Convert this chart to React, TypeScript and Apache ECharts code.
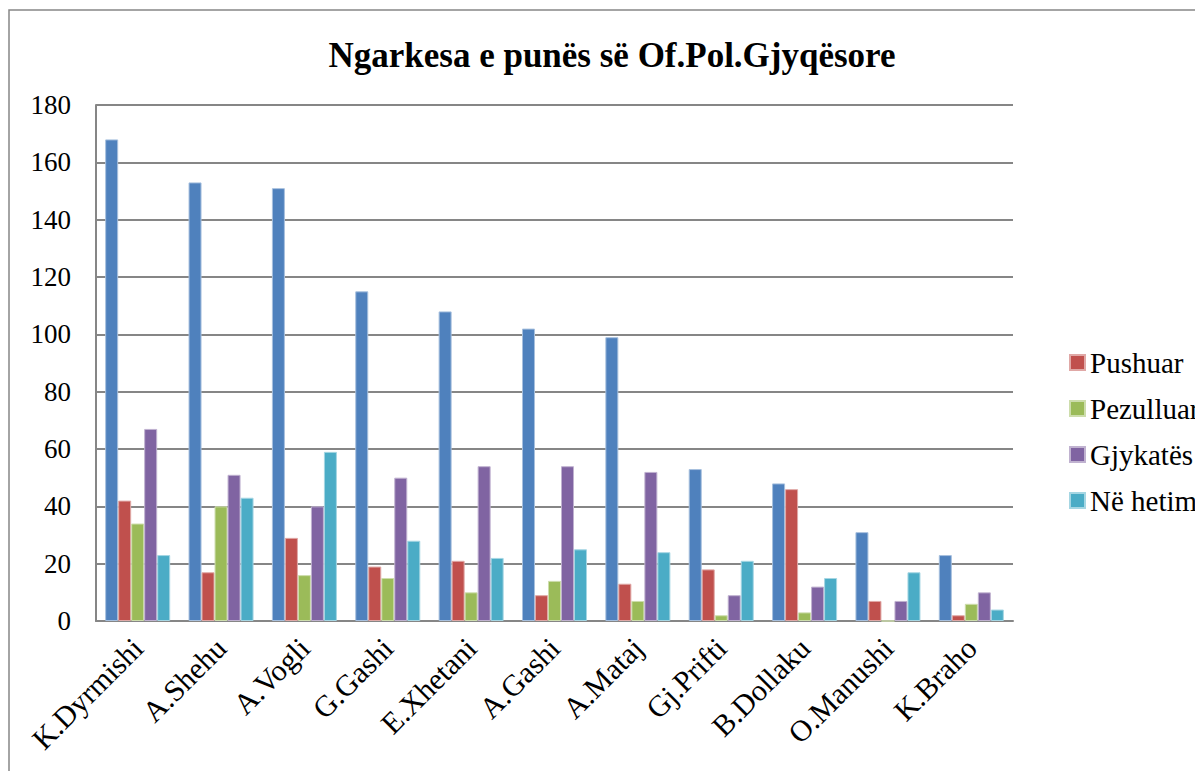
import React, { useEffect, useRef } from "react";
import * as echarts from "echarts";

const categories = ["K.Dyrmishi", "A.Shehu", "A.Vogli", "G.Gashi", "E.Xhetani", "A.Gashi", "A.Mataj", "Gj.Prifti", "B.Dollaku", "O.Manushi", "K.Braho"];
const totali = [168, 153, 151, 115, 108, 102, 99, 53, 48, 31, 23];
const pushuar = [42, 17, 29, 19, 21, 9, 13, 18, 46, 7, 2];
const pezulluar = [34, 40, 16, 15, 10, 14, 7, 2, 3, 0, 6];
const gjykates = [67, 51, 40, 50, 54, 54, 52, 9, 12, 7, 10];
const neHetim = [23, 43, 59, 28, 22, 25, 24, 21, 15, 17, 4];
const legendNames = ["Pushuar", "Pezulluar", "Gjykatës", "Në hetim"];

const seriesDefs = [
  { name: "Totali", data: totali, color: "#4F81BD", border: "#A7C0DE" },
  { name: "Pushuar", data: pushuar, color: "#C0504D", border: "#E0A8A6" },
  { name: "Pezulluar", data: pezulluar, color: "#9BBB59", border: "#CDDDAC" },
  { name: "Gjykatës", data: gjykates, color: "#8064A2", border: "#C0B2D0" },
  { name: "Në hetim", data: neHetim, color: "#4BACC6", border: "#A5D6E3" },
];

const font = "Liberation Serif";

export default function App() {
  const ref = useRef<HTMLDivElement>(null);
  useEffect(() => {
    if (!ref.current) return;
    const chart = echarts.init(ref.current, null, { renderer: "svg" });
    chart.setOption({
      animation: false,
      backgroundColor: "#fff",
      textStyle: { fontFamily: font },
      title: {
        text: "Ngarkesa e punës së Of.Pol.Gjyqësore",
        left: 599,
        top: 25,
        textAlign: "center",
        textStyle: { fontFamily: font, fontSize: 35, fontWeight: "bold", color: "#000" },
      },
      graphic: [
        {
          type: "rect",
          shape: { x: 1, y: 2, width: 1220, height: 790 },
          style: { fill: "none", stroke: "#868686", lineWidth: 1.5 },
          silent: true,
        },
      ],
      legend: {
        data: legendNames,
        orient: "vertical",
        left: 1056,
        top: 335,
        itemWidth: 15,
        itemHeight: 15,
        itemGap: 17,
        icon: "rect",
        textStyle: { fontFamily: font, fontSize: 29, lineHeight: 29, color: "#000" },
      },
      grid: { left: 88, right: 190, top: 97, bottom: 150 },
      xAxis: {
        type: "category",
        data: categories,
        axisLine: { show: true, lineStyle: { color: "#868686", width: 2 } },
        axisTick: { show: false },
        axisLabel: { rotate: 45, fontFamily: font, fontSize: 30, color: "#000", margin: 22, interval: 0 },
      },
      yAxis: {
        type: "value",
        min: 0,
        max: 180,
        interval: 20,
        axisLine: { show: true, lineStyle: { color: "#868686", width: 2 } },
        axisTick: { show: false },
        axisLabel: { fontFamily: font, fontSize: 27, color: "#000", margin: 25 },
        splitLine: { lineStyle: { color: "#868686", width: 2 } },
      },
      series: seriesDefs.map((s) => ({
        name: s.name,
        type: "bar",
        data: s.data,
        barGap: "0%",
        barCategoryGap: "22%",
        itemStyle: { color: s.color, borderColor: s.border, borderWidth: 1 },
      })),
    });
    return () => chart.dispose();
  }, []);
  return <div ref={ref} style={{ width: 1195, height: 763 }} />;
}
